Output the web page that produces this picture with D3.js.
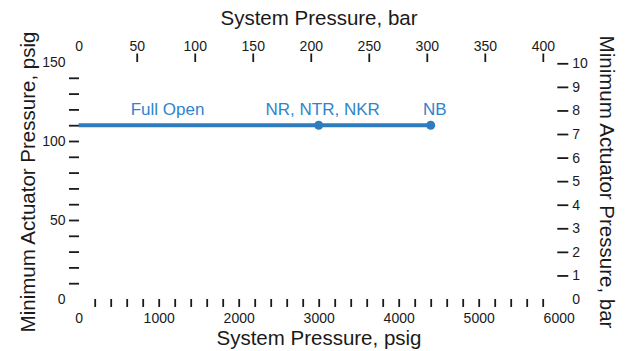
<!DOCTYPE html>
<html>
<head>
<meta charset="utf-8">
<script src="https://cdn.jsdelivr.net/npm/d3@7"></script>
<style>
  html, body { margin: 0; padding: 0; background: #fff; }
  svg text { font-family: "Liberation Sans", Arial, Helvetica, sans-serif; fill: #1a1a1a; }
</style>
</head>
<body>
<svg id="chart" width="629" height="351"></svg>
<script>
// Operating points: system pressure (psig) vs. minimum actuator pressure (psig)
const systemPsig = [0, 3000, 4400];
const actuatorPsig = [110, 110, 110];
const hasMarker = [false, true, true];
const pointLabels = ["Full Open", "NR, NTR, NKR", "NB"];
const labelAtPsig = [1110, 3050, 4450];

// Axis ticks
const psigMinorTicks = d3.range(200, 5801, 200);
const psigLabels = [0, 1000, 2000, 3000, 4000, 5000, 6000];
const barTicks = [0, 50, 100, 150, 200, 250, 300, 350, 400];
const actPsigMinorTicks = d3.range(10, 141, 10);
const actPsigLabels = [0, 50, 100, 150];
const actBarTicks = [0, 1, 2, 3, 4, 5, 6, 7, 8, 9, 10];

const PSI_PER_BAR = 14.5038;
const blue = "#2e7cc0";

const svg = d3.select("#chart");

const x = d3.scaleLinear().domain([0, 6000]).range([78.7, 558.7]);
const xBar = d3.scaleLinear().domain([0, 6000 / PSI_PER_BAR]).range([78.7, 558.7]);
const y = d3.scaleLinear().domain([0, 150]).range([299, 62]);
const yBar = d3.scaleLinear().domain([0, 10]).range([299, 63.3]);

function styleAxis(g) {
  g.select(".domain").remove();
  g.selectAll(".tick line").attr("stroke", "#1a1a1a").attr("stroke-width", 1.8);
  g.selectAll(".tick text").attr("fill", "#1a1a1a").style("font-size", "14px");
}

// Bottom: psig
svg.append("g").attr("transform", "translate(0,299)")
  .call(d3.axisBottom(x).tickValues(psigMinorTicks).tickSize(8).tickFormat(""))
  .call(styleAxis);
svg.append("g").attr("transform", "translate(0,313.5)")
  .call(d3.axisBottom(x).tickValues(psigLabels).tickSize(0).tickPadding(0).tickFormat(d3.format("d")))
  .call(styleAxis);

// Top: bar
const topAxis = svg.append("g").attr("transform", "translate(0,62)")
  .call(d3.axisTop(xBar).tickValues(barTicks).tickSize(8.5).tickPadding(3).tickFormat(d3.format("d")))
  .call(styleAxis);
topAxis.selectAll(".tick").filter(d => d === 0).select("line").remove();

// Left: psig
svg.append("g").attr("transform", "translate(79,0)")
  .call(d3.axisLeft(y).tickValues(actPsigMinorTicks).tickSize(10).tickFormat(""))
  .call(styleAxis);
svg.append("g").attr("transform", "translate(79,0)")
  .call(d3.axisLeft(y).tickValues(actPsigLabels).tickSize(0).tickPadding(13.5).tickFormat(d3.format("d")))
  .call(styleAxis);

// Right: bar
const rightAxis = svg.append("g").attr("transform", "translate(557.3,0)")
  .call(d3.axisRight(yBar).tickValues(actBarTicks).tickSize(11).tickPadding(4).tickFormat(d3.format("d")))
  .call(styleAxis);
rightAxis.selectAll(".tick").filter(d => d === 0).select("line").remove();

// Axis titles
const titleSize = "20.5px";
svg.append("text").attr("x", 319).attr("y", 25.3).attr("text-anchor", "middle")
  .style("font-size", titleSize).text("System Pressure, bar");
svg.append("text").attr("x", 319).attr("y", 345).attr("text-anchor", "middle")
  .style("font-size", titleSize).text("System Pressure, psig");
svg.append("text").attr("transform", "translate(35,182) rotate(-90)").attr("text-anchor", "middle")
  .style("font-size", titleSize).text("Minimum Actuator Pressure, psig");
svg.append("text").attr("transform", "translate(600,182) rotate(90)").attr("text-anchor", "middle")
  .style("font-size", titleSize).text("Minimum Actuator Pressure, bar");

// Data line and markers
const pts = systemPsig.map((s, i) => ({ s, a: actuatorPsig[i], m: hasMarker[i], label: pointLabels[i], lx: labelAtPsig[i] }));

svg.append("path")
  .datum(pts)
  .attr("fill", "none")
  .attr("stroke", blue)
  .attr("stroke-width", 4)
  .attr("d", d3.line().x(d => x(d.s)).y(d => y(d.a)));

svg.selectAll("circle.pt")
  .data(pts.filter(d => d.m))
  .join("circle")
  .attr("class", "pt")
  .attr("cx", d => x(d.s))
  .attr("cy", d => y(d.a))
  .attr("r", 4.5)
  .attr("fill", blue);

svg.selectAll("text.pt-label")
  .data(pts)
  .join("text")
  .attr("class", "pt-label")
  .attr("x", d => x(d.lx))
  .attr("y", d => y(d.a) - 10)
  .attr("text-anchor", "middle")
  .style("font-size", "17px")
  .style("fill", "#2f84cc")
  .text(d => d.label);
</script>
</body>
</html>
